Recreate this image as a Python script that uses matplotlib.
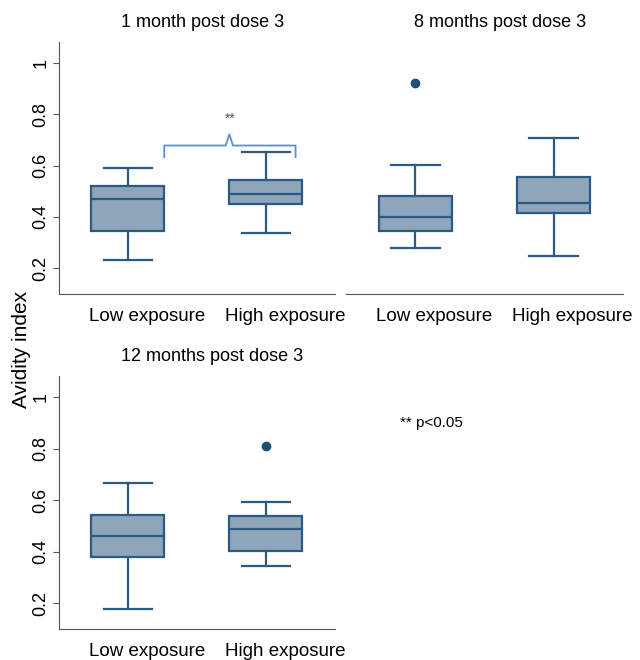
import matplotlib
matplotlib.use("Agg")
import matplotlib.pyplot as plt
from matplotlib.transforms import ScaledTranslation

plt.rcParams['font.family'] = ['Liberation Sans', 'DejaVu Sans']

# ---- data ----
groups = ["Low exposure", "High exposure"]
titles = ["1 month post dose 3", "8 months post dose 3", "12 months post dose 3"]

# whisker low, Q1, median, Q3, whisker high, outliers
m1_low = [0.231, 0.346, 0.469, 0.522, 0.592, []]
m1_high = [0.337, 0.451, 0.488, 0.543, 0.654, []]
m8_low = [0.280, 0.345, 0.399, 0.481, 0.604, [0.923]]
m8_high = [0.247, 0.415, 0.454, 0.557, 0.706, []]
m12_low = [0.179, 0.379, 0.461, 0.544, 0.665, []]
m12_high = [0.347, 0.402, 0.487, 0.540, 0.591, [0.808]]

panels = [(m1_low, m1_high), (m8_low, m8_high), (m12_low, m12_high)]
yticks = [0.2, 0.4, 0.6, 0.8, 1]

box_face = "#8fa5b9"
box_edge = "#2b5a85"
dot_col = "#1f4e79"


def stats(v, label):
    return dict(whislo=v[0], q1=v[1], med=v[2], q3=v[3], whishi=v[4],
                fliers=v[5], label=label)


fig = plt.figure(figsize=(6.4, 6.6), dpi=100)
ax1 = fig.add_axes([0.092, 0.5545, 0.431, 0.3815])
ax2 = fig.add_axes([0.541, 0.5545, 0.432, 0.3815])
ax3 = fig.add_axes([0.092, 0.0465, 0.431, 0.3835])
axes = [ax1, ax2, ax3]
title_x = [0.52, 0.555, 0.555]

# labels sit a little right of the boxes in the original
shift = ScaledTranslation(0.19, 0, fig.dpi_scale_trans)

for i, ax in enumerate(axes):
    lo, hi = panels[i]
    ax.bxp([stats(lo, groups[0]), stats(hi, groups[1])], positions=[0, 1],
           widths=0.53, patch_artist=True, showcaps=True,
           boxprops=dict(facecolor=box_face, edgecolor=box_edge, linewidth=1.6),
           medianprops=dict(color=box_edge, linewidth=1.6),
           whiskerprops=dict(color=box_edge, linewidth=1.6),
           capprops=dict(color=box_edge, linewidth=1.6),
           flierprops=dict(marker="o", markerfacecolor=dot_col,
                           markeredgecolor=dot_col, markersize=6))
    ax.set_xlim(-0.5, 1.5)
    ax.set_ylim(0.1, 1.08)
    ax.set_title(titles[i], fontsize=13, pad=11, x=title_x[i])
    for s in ["top", "right"]:
        ax.spines[s].set_visible(False)
    ax.spines["bottom"].set_color("#555555")
    ax.spines["left"].set_color("#555555")
    ax.tick_params(axis="x", length=0, labelsize=13.5, pad=10)
    ax.set_xticks([0, 1])
    ax.set_xticklabels(groups)
    for lab in ax.get_xticklabels():
        lab.set_transform(lab.get_transform() + shift)
    if i == 1:
        ax.spines["left"].set_visible(False)
        ax.set_yticks([])
    else:
        ax.set_yticks(yticks)
        ax.set_yticklabels(["0.2", "0.4", "0.6", "0.8", "1"], rotation=90,
                           va="center", fontsize=13)
        ax.tick_params(axis="y", length=4, color="#555555", pad=3)

# caps a bit narrower than the boxes
for ax in axes:
    for ln in ax.lines:
        xd = ln.get_xdata()
        if len(xd) == 2 and xd[0] != xd[1] and abs(xd[1] - xd[0]) < 0.3:
            c = (xd[0] + xd[1]) / 2
            ln.set_xdata([c - 0.175, c + 0.175])

# significance bracket in first panel
bc = "#5b8fd0"
ax1.plot([0.264, 0.264, 0.71, 0.736, 0.762, 1.216, 1.216],
         [0.633, 0.678, 0.678, 0.722, 0.678, 0.678, 0.633],
         color=bc, linewidth=1.3, solid_joinstyle="round")
ax1.text(0.745, 0.782, "**", ha="center", va="center", fontsize=10, color="#555555")

fig.text(0.625, 0.359, "** p<0.05", fontsize=11, ha="left", va="center")
fig.text(0.033, 0.47, "Avidity index", rotation=90, fontsize=15,
         ha="center", va="center")

fig.savefig("out.png", dpi=100)
